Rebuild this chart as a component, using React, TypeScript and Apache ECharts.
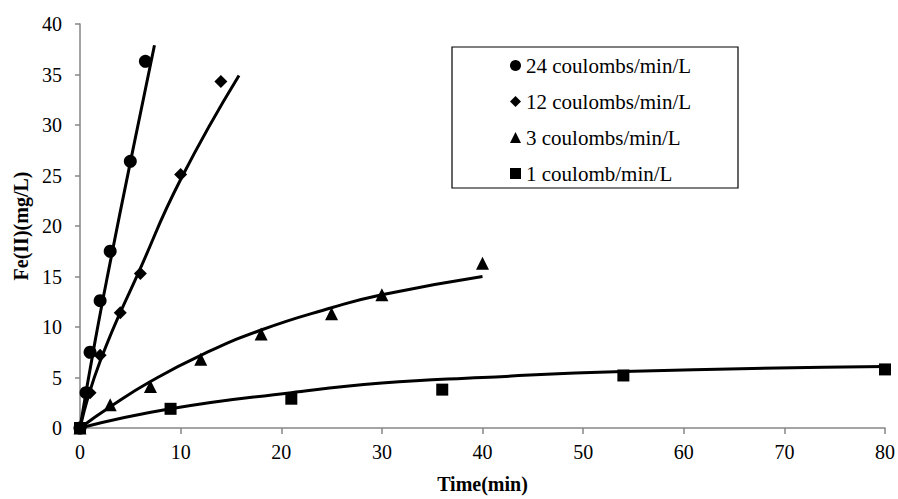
import React, { useEffect, useRef } from "react";
import * as echarts from "echarts";

const FONT = "Liberation Serif, Times New Roman, serif";

const seriesNames = [
  "24 coulombs/min/L",
  "12 coulombs/min/L",
  "3 coulombs/min/L",
  "1 coulomb/min/L",
];
const seriesSymbols = ["circle", "diamond", "triangle", "rect"];
const symbolSizes = [13, 13, 13, 12];

const pts24: number[][] = [[0, 0], [0.6, 3.5], [1, 7.5], [2, 12.6], [3, 17.5], [5, 26.4], [6.5, 36.3]];
const pts12: number[][] = [[0, 0], [1, 3.5], [2, 7.2], [4, 11.4], [6, 15.3], [10, 25.1], [14, 34.3]];
const pts3: number[][] = [[0, 0], [3, 2.3], [7, 4.1], [12, 6.8], [18, 9.3], [25, 11.3], [30, 13.2], [40, 16.3]];
const pts1: number[][] = [[0, 0], [9, 1.9], [21, 2.9], [36, 3.8], [54, 5.2], [80, 5.8]];

const fit24: number[][] = [[0, 0], [1.5, 8.6], [3, 16.4], [5, 26.3], [7.4, 37.9]];
const fit12: number[][] = [[0, 0], [2, 6.6], [6, 15.8], [10, 24.6], [15.8, 34.9]];
const fit3: number[][] = [[0, 0], [3, 2.1], [7, 4.6], [12, 7.2], [18, 9.7], [25, 11.9], [30, 13.2], [40, 15.0]];
const fit1: number[][] = [[0, 0], [9, 1.9], [21, 3.5], [30, 4.45], [40, 5.0], [54, 5.6], [80, 6.1]];

const pointSets = [pts24, pts12, pts3, pts1];
const fitSets = [fit24, fit12, fit3, fit1];

export default function App() {
  const ref = useRef<HTMLDivElement>(null);
  useEffect(() => {
    if (!ref.current) return;
    const chart = echarts.init(ref.current, null, { renderer: "svg" });
    const lineSeries = fitSets.map((d, i) => ({
      type: "line",
      name: "fit" + i,
      data: d,
      showSymbol: false,
      smooth: 0.5,
      lineStyle: { color: "#000", width: 3 },
      itemStyle: { color: "#000" },
      z: 2,
    }));
    const scatterSeries = pointSets.map((d, i) => ({
      type: "scatter",
      name: seriesNames[i],
      data: d,
      symbol: seriesSymbols[i],
      symbolSize: symbolSizes[i],
      itemStyle: { color: "#000", opacity: 1 },
      z: 3,
    }));
    chart.setOption({
      animation: false,
      backgroundColor: "#fff",
      textStyle: { fontFamily: FONT },
      grid: { left: 80, right: 11, top: 24, bottom: 68 },
      xAxis: {
        type: "value",
        min: 0,
        max: 80,
        interval: 10,
        name: "Time(min)",
        nameLocation: "middle",
        nameGap: 46,
        nameTextStyle: { fontFamily: FONT, fontWeight: "bold", fontSize: 20, color: "#000" },
        axisLine: { show: true, lineStyle: { color: "#868686", width: 1.5 } },
        axisTick: { show: true, inside: false, length: 6, lineStyle: { color: "#868686", width: 1.5 } },
        axisLabel: { fontFamily: FONT, fontSize: 20, color: "#000", margin: 14 },
        splitLine: { show: false },
      },
      yAxis: {
        type: "value",
        min: 0,
        max: 40,
        interval: 5,
        name: "Fe(II)(mg/L)",
        nameLocation: "middle",
        nameGap: 48,
        nameTextStyle: { fontFamily: FONT, fontWeight: "bold", fontSize: 20, color: "#000" },
        axisLine: { show: true, lineStyle: { color: "#868686", width: 1.5 } },
        axisTick: { show: true, inside: false, length: 5, lineStyle: { color: "#868686", width: 1.5 } },
        axisLabel: { fontFamily: FONT, fontSize: 20, color: "#000", margin: 18 },
        splitLine: { show: false },
      },
      legend: {
        orient: "vertical",
        left: 510,
        top: 55,
        padding: 0,
        itemWidth: 11,
        itemHeight: 11,
        itemGap: 15,
        textStyle: { fontFamily: FONT, fontSize: 21, color: "#000", lineHeight: 21 },
        data: seriesNames.map((n, i) => ({ name: n, icon: seriesSymbols[i] })),
      },
      graphic: [
        {
          type: "rect",
          shape: { x: 452, y: 47, width: 286, height: 141 },
          style: { fill: "none", stroke: "#000", lineWidth: 1.2 },
          z: 0,
        },
      ],
      series: [...lineSeries, ...scatterSeries],
    });
    return () => chart.dispose();
  }, []);
  return (
    <div
      ref={ref}
      style={{ position: "absolute", left: 0, top: 0, width: 898, height: 499 }}
    />
  );
}
